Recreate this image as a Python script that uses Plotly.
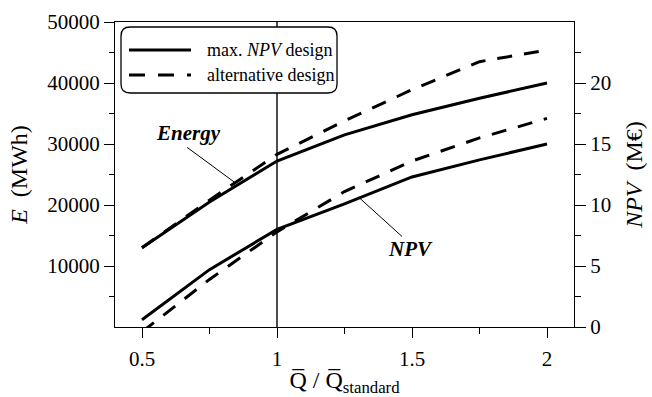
import plotly.graph_objects as go

# Flow ratio Q / Q_standard
flow_ratio = [0.5, 0.75, 1.0, 1.25, 1.5, 1.75, 2.0]

# Annual energy production (MWh)
energy_max_npv = [13000, 20500, 27200, 31500, 34800, 37500, 40000]
energy_alternative = [13000, 20800, 28300, 33800, 38900, 43500, 45400]

# Net present value (M€)
npv_max_npv = [0.6, 4.7, 8.0, 10.1, 12.3, 13.7, 15.0]
npv_alternative = [-0.4, 3.9, 7.8, 11.1, 13.6, 15.5, 17.1]

energy_ticks = [10000, 20000, 30000, 40000, 50000]
npv_ticks = [0, 5, 10, 15, 20]

FONT = "Liberation Serif"
LW = 3
DASH = "15px,12px"

fig = go.Figure()
fig.add_trace(go.Scatter(x=flow_ratio, y=energy_max_npv, mode="lines",
                         line=dict(color="black", width=LW), yaxis="y",
                         showlegend=False, name="max. NPV design"))
fig.add_trace(go.Scatter(x=flow_ratio, y=energy_alternative, mode="lines",
                         line=dict(color="black", width=LW, dash=DASH), yaxis="y",
                         showlegend=False, name="alternative design"))
fig.add_trace(go.Scatter(x=flow_ratio, y=npv_max_npv, mode="lines",
                         line=dict(color="black", width=LW), yaxis="y2",
                         showlegend=False, name="max. NPV design"))
fig.add_trace(go.Scatter(x=flow_ratio, y=npv_alternative, mode="lines",
                         line=dict(color="black", width=LW, dash=DASH), yaxis="y2",
                         showlegend=False, name="alternative design"))

shapes = []
# reference design flow
shapes.append(dict(type="line", xref="x", yref="paper", x0=1, x1=1, y0=0, y1=1,
                   line=dict(color="black", width=1.4), layer="below"))

# leader lines for the curve labels
shapes.append(dict(type="line", xref="x", yref="y", x0=0.667, y0=29450, x1=0.845, y1=23650,
                   line=dict(color="black", width=1)))
shapes.append(dict(type="line", xref="x", yref="y2", x0=1.302, y0=10.65, x1=1.463, y1=7.42,
                   line=dict(color="black", width=1)))

# legend frame with rounded corners
bx0, bx1, by0, by1 = 0.0131, 0.4837, 0.7672, 0.9836
rx, ry = 9 / 459, 9 / 305
path = (f"M {bx0+rx},{by1} L {bx1-rx},{by1} Q {bx1},{by1} {bx1},{by1-ry} "
        f"L {bx1},{by0+ry} Q {bx1},{by0} {bx1-rx},{by0} "
        f"L {bx0+rx},{by0} Q {bx0},{by0} {bx0},{by0+ry} "
        f"L {bx0},{by1-ry} Q {bx0},{by1} {bx0+rx},{by1} Z")
shapes.append(dict(type="path", xref="paper", yref="paper", path=path,
                   fillcolor="white", line=dict(color="black", width=1.3)))

legend_rows = [("max. <i>NPV</i> design", None, 0.9082),
               ("alternative design", DASH, 0.8262)]
annotations = []
for text, dash, yy in legend_rows:
    ln = dict(color="black", width=LW)
    if dash:
        ln["dash"] = "16px,13px"
    shapes.append(dict(type="line", xref="paper", yref="paper",
                       x0=0.0305, x1=0.1656, y0=yy, y1=yy, line=ln))
    annotations.append(dict(xref="paper", yref="paper", x=0.1961, y=yy, text=text,
                            showarrow=False, xanchor="left", yanchor="middle",
                            font=dict(family=FONT, size=18, color="black")))

annotations.append(dict(xref="x", yref="y", x=0.6715, y=31800, text="<b><i>Energy</i></b>",
                        showarrow=False, font=dict(family=FONT, size=21, color="black")))
annotations.append(dict(xref="x", yref="y2", x=1.4937, y=6.4, text="<b><i>NPV</i></b>",
                        showarrow=False, font=dict(family=FONT, size=21, color="black")))

axis_common = dict(showline=True, linecolor="black", linewidth=1.3, ticks="outside",
                   tickcolor="black", tickwidth=1.3, showgrid=False, zeroline=False,
                   automargin=False,
                   tickfont=dict(family=FONT, size=21, color="black"))

fig.update_layout(
    width=652, height=397,
    margin=dict(l=115, r=78, t=22, b=70),
    paper_bgcolor="white", plot_bgcolor="white",
    font=dict(family=FONT, color="black"),
    xaxis=dict(range=[0.4, 2.1], tickvals=[0.5, 1, 1.5, 2], ticktext=["0.5", "1", "1.5", "2"],
               ticklen=10, mirror=True, ticklabelstandoff=3,
               minor=dict(tickvals=[0.75, 1.25, 1.75], ticklen=6, ticks="outside",
                          tickcolor="black", tickwidth=1.3),
               title=dict(text="Q\u0305 / Q\u0305<sub>standard</sub>",
                          font=dict(family=FONT, size=24), standoff=4),
               **axis_common),
    yaxis=dict(range=[0, 50000], tickvals=energy_ticks,
               ticktext=[str(v) for v in energy_ticks], ticklen=10,
               minor=dict(tickvals=[5000, 15000, 25000, 35000, 45000], ticklen=5,
                          ticks="outside", tickcolor="black", tickwidth=1.3),
               title=dict(text="<i>E</i>  (MWh)", font=dict(family=FONT, size=24), standoff=12),
               **axis_common),
    yaxis2=dict(range=[0, 25], overlaying="y", side="right", anchor="x",
                tickvals=npv_ticks, ticktext=[str(v) for v in npv_ticks], ticklen=11,
                minor=dict(tickvals=[2.5, 7.5, 12.5, 17.5, 22.5], ticklen=6,
                           ticks="outside", tickcolor="black", tickwidth=1.3),
                title=dict(text="<i>NPV</i>  (M€)", font=dict(family=FONT, size=24), standoff=14),
                **axis_common),
    shapes=shapes,
    annotations=annotations,
)

fig.write_html("out.html")
